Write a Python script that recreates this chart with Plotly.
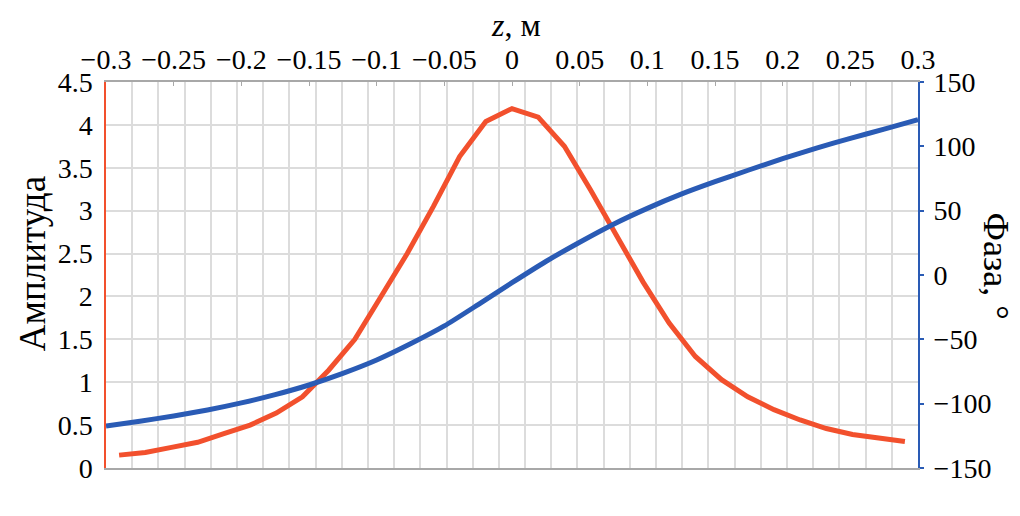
import plotly.graph_objects as go

# Amplitude (red), sampled at 31 category centres (hidden bottom axis)
amp_cat = list(range(1, 32))
amp_vals = [0.15, 0.18, 0.24, 0.30, 0.40, 0.50, 0.64, 0.83, 1.14, 1.50,
            2.00, 2.50, 3.05, 3.63, 4.04, 4.19, 4.09, 3.75, 3.24, 2.70,
            2.17, 1.69, 1.30, 1.03, 0.83, 0.68, 0.56, 0.46, 0.39, 0.35, 0.31]

# Phase (blue), read against top z axis
phase_z = [-0.3, -0.275, -0.25, -0.225, -0.2, -0.175, -0.15, -0.125, -0.1,
           -0.075, -0.05, -0.025, 0.0, 0.025, 0.05, 0.075, 0.1, 0.125, 0.15,
           0.175, 0.2, 0.225, 0.25, 0.275, 0.3]
phase_vals = [-117.4, -113.6, -109.6, -104.9, -99.4, -93.0, -85.5, -76.5, -66.1,
              -53.5, -39.6, -23.0, -6.0, 10.5, 25.5, 39.5, 51.8, 62.8, 72.5,
              81.6, 90.4, 98.6, 106.2, 113.4, 120.8]

z_ticks = [-0.3, -0.25, -0.2, -0.15, -0.1, -0.05, 0, 0.05, 0.1, 0.15, 0.2, 0.25, 0.3]
z_ticktext = ["\u22120.3", "\u22120.25", "\u22120.2", "\u22120.15", "\u22120.1", "\u22120.05",
              "0", "0.05", "0.1", "0.15", "0.2", "0.25", "0.3"]
amp_ticks = [0, 0.5, 1, 1.5, 2, 2.5, 3, 3.5, 4, 4.5]
amp_ticktext = ["0", "0.5", "1", "1.5", "2", "2.5", "3", "3.5", "4", "4.5"]
phase_ticks = [-150, -100, -50, 0, 50, 100, 150]
phase_ticktext = ["\u2212150", "\u2212100", "\u221250", "0", "50", "100", "150"]

RED = "#F2502D"
BLUE = "#2A5BB5"
GRID = "#DCDCDC"
FONT = "Liberation Serif"

cat_bounds = [c - 0.5 for c in amp_cat] + [amp_cat[-1] + 0.5]

fig = go.Figure()
fig.add_trace(go.Scatter(x=amp_cat, y=amp_vals, mode="lines",
                         line=dict(color=RED, width=5), xaxis="x", yaxis="y",
                         showlegend=False))
fig.add_trace(go.Scatter(x=phase_z, y=phase_vals, mode="lines",
                         line=dict(color=BLUE, width=5, shape="spline", smoothing=0.6),
                         xaxis="x2", yaxis="y2", showlegend=False))

# page body has an 8px default margin, so the figure is offset by 8px
fig.update_layout(
    width=1012, height=508,
    margin=dict(l=98, r=102, t=74, b=48, autoexpand=False),
    paper_bgcolor="white", plot_bgcolor="white",
    font=dict(family=FONT, size=28, color="black"),
    xaxis=dict(range=[cat_bounds[0], cat_bounds[-1]], tickvals=cat_bounds,
               showticklabels=False, ticks="", showgrid=True, gridcolor=GRID,
               gridwidth=1.5, zeroline=False, showline=True, linecolor="#A8A8A8",
               linewidth=1.5, automargin=False),
    xaxis2=dict(range=[-0.3, 0.3], overlaying="x", side="top",
                tickvals=z_ticks, ticktext=z_ticktext, showgrid=False,
                zeroline=False, showline=True, linecolor="#A8A8A8", linewidth=1.5,
                ticks="inside", ticklen=4, tickcolor="#A8A8A8", tickwidth=1.2,
                automargin=False,
                tickfont=dict(family=FONT, size=28, color="black")),
    yaxis=dict(range=[0, 4.5], tickvals=amp_ticks, ticktext=amp_ticktext,
               showgrid=True, gridcolor=GRID, gridwidth=1.5, zeroline=False,
               showline=True, linecolor=RED, linewidth=1.5, ticks="",
               ticklabelstandoff=6, automargin=False,
               tickfont=dict(family=FONT, size=28, color="black")),
    yaxis2=dict(range=[-150, 150], overlaying="y", side="right",
                tickvals=phase_ticks, ticktext=phase_ticktext, showgrid=False,
                zeroline=False, showline=True, linecolor=BLUE, linewidth=2,
                ticks="outside", ticklen=4, tickcolor=BLUE, tickwidth=2,
                ticklabelstandoff=4, automargin=False,
                tickfont=dict(family=FONT, size=28, color="black")),
    annotations=[
        dict(text="Амплитуда", xref="paper", yref="paper", x=-0.0911, y=0.528,
             xanchor="center", yanchor="middle", textangle=-90, showarrow=False,
             font=dict(family=FONT, size=37, color="black")),
        dict(text="Фаза, °", xref="paper", yref="paper", x=1.0955, y=0.523,
             xanchor="center", yanchor="middle", textangle=90, showarrow=False,
             font=dict(family=FONT, size=36, color="black")),
        dict(text="<i>z</i>, м", xref="paper", yref="paper", x=0.505, y=1.148,
             xanchor="center", yanchor="middle", showarrow=False,
             font=dict(family=FONT, size=32, color="black")),
    ],
)

fig.write_html("out.html")
